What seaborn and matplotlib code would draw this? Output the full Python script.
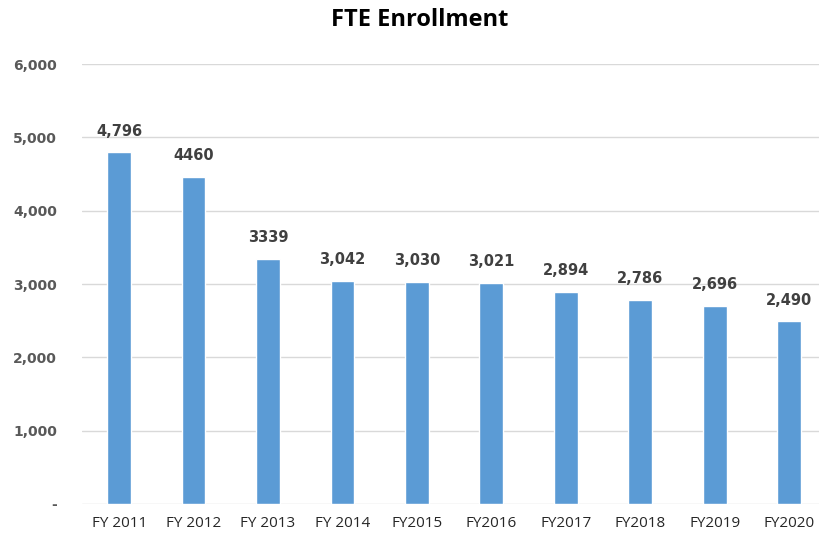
import matplotlib
matplotlib.use("Agg")
import matplotlib.pyplot as plt
import seaborn as sns
import pandas as pd

# data
years = ["FY 2011", "FY 2012", "FY 2013", "FY 2014", "FY2015",
         "FY2016", "FY2017", "FY2018", "FY2019", "FY2020"]
enrollment = [4796, 4460, 3339, 3042, 3030, 3021, 2894, 2786, 2696, 2490]
bar_labels = ["4,796", "4460", "3339", "3,042", "3,030",
              "3,021", "2,894", "2,786", "2,696", "2,490"]
yticks = [0, 1000, 2000, 3000, 4000, 5000, 6000]
ytick_labels = ["-", "1,000", "2,000", "3,000", "4,000", "5,000", "6,000"]

df = pd.DataFrame({"year": years, "fte": enrollment})

sns.set_theme(style="white")
plt.rcParams["font.family"] = ["Open Sans", "DejaVu Sans"]

fig = plt.figure(figsize=(8.19, 5.35), dpi=100)
ax = fig.add_axes([0.1, 0.058, 0.9, 0.822])

sns.barplot(data=df, x="year", y="fte", color="#5B9BD5", width=0.32,
            saturation=1, ax=ax, zorder=3)

ax.set_ylim(0, 6000)
ax.set_xlim(-0.5, 9.4)
ax.set_yticks(yticks)
ax.set_yticklabels(ytick_labels, family="DejaVu Sans", fontweight="bold",
                   fontsize=10)
ax.yaxis.grid(True, color="#D9D9D9", linewidth=1, zorder=0)
ax.tick_params(axis="both", length=0, colors="#595959")
ax.tick_params(axis="x", labelsize=11, pad=9, colors="#262626")
ax.tick_params(axis="y", pad=18)
for s in ax.spines.values():
    s.set_visible(False)
ax.set_xlabel("")
ax.set_ylabel("")

# value labels above bars
ax.bar_label(ax.containers[0], labels=bar_labels, padding=10,
             fontsize=10.5, fontweight="bold", color="#404040",
             family="DejaVu Sans")

fig.text(0.513, 0.963, "FTE Enrollment", ha="center", va="center",
         fontsize=17, fontweight="bold", color="#000000")

fig.savefig("out.png", dpi=100)
